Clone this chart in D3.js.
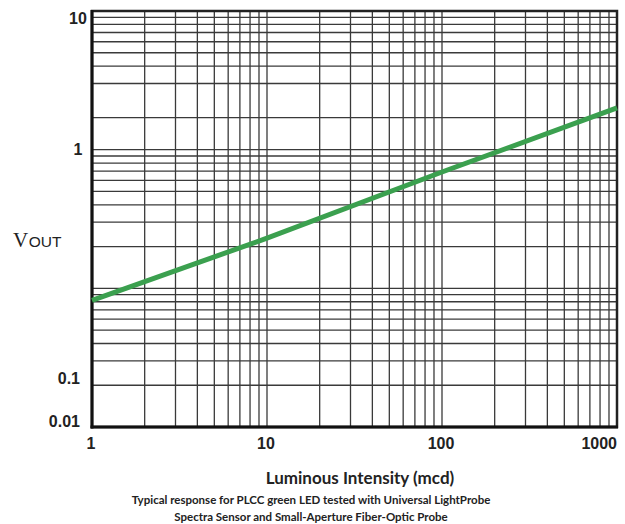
<!DOCTYPE html>
<html>
<head>
<meta charset="utf-8">
<script src="https://cdn.jsdelivr.net/npm/d3@7"></script>
<style>
  html, body { margin: 0; padding: 0; background: #fff; }
  svg { display: block; }
</style>
</head>
<body>
<svg id="chart" width="625" height="524"></svg>
<script>
// ---- data ----
const lumIntensity = [1, 10, 100, 1000];          // mcd
const vout = [0.082, 0.23, 0.69, 2.0];              // volts
const xTickValues = [1, 10, 100, 1000];
const xTickLabels = ["1", "10", "100", "1000"];
const yTickLabels = ["10", "1", "0.1", "0.01"];
const yTickLabelValues = [8.8, 1, 0.0225, 0.011];   // where the labels sit on the printed chart
const xGridValues = [2,3,4,5,6,7,8,9,10,20,30,40,50,60,70,80,90,100,200,300,400,500,600,700,800,900];
const yGridValues = [9,8,7,6,5,4,3,1.7,1,0.9,0.8,0.7,0.6,0.5,0.4,0.3,0.2,0.1,
                     0.09,0.08,0.07,0.06,0.05,0.04,0.03,0.02];
const xTitle = "Luminous Intensity (mcd)";
const captionLines = ["Typical response for PLCC green LED tested with Universal LightProbe",
                      "Spectra Sensor and Small-Aperture Fiber-Optic Probe"];

// ---- layout ----
const pL = 92, pR = 617, pT = 11, pB = 427;
const svg = d3.select("#chart");
const x = d3.scaleLog().domain([1, 1000]).range([pL, pR]);
const y = d3.scaleLog().domain([0.01, 10]).range([pB, pT]);

const grid = svg.append("g");
grid.selectAll("line.v").data(xGridValues).join("line")
  .attr("x1", d => x(d)).attr("x2", d => x(d))
  .attr("y1", pT).attr("y2", pB)
  .attr("stroke", "#3a3a3a").attr("stroke-width", 1.3);
grid.selectAll("line.h").data(yGridValues).join("line")
  .attr("y1", d => y(d)).attr("y2", d => y(d))
  .attr("x1", pL).attr("x2", pR)
  .attr("stroke", "#3a3a3a").attr("stroke-width", 1.3);

// frame
svg.append("rect")
  .attr("x", pL).attr("y", pT)
  .attr("width", pR - pL).attr("height", pB - pT)
  .attr("fill", "none").attr("stroke", "#222").attr("stroke-width", 2.5);
svg.append("line").attr("x1", pL).attr("x2", pL).attr("y1", pT - 1).attr("y2", pB + 1.5)
  .attr("stroke", "#111").attr("stroke-width", 3);
svg.append("line").attr("x1", pL - 1.5).attr("x2", pR + 1).attr("y1", pB).attr("y2", pB)
  .attr("stroke", "#111").attr("stroke-width", 3);

// data line
const line = d3.line().x((d, i) => x(lumIntensity[i])).y(d => y(d));
svg.append("path").datum(vout)
  .attr("d", line)
  .attr("fill", "none").attr("stroke", "#3ba04f").attr("stroke-width", 5);

// y tick labels
svg.append("g").selectAll("text").data(yTickLabels).join("text")
  .attr("x", (d, i) => i < 2 ? 78 : 80)
  .attr("y", (d, i) => y(yTickLabelValues[i]))
  .attr("dy", "0.35em")
  .attr("text-anchor", (d, i) => i < 2 ? "middle" : "end")
  .attr("font-family", "Liberation Sans, Arial, sans-serif")
  .attr("font-weight", "bold").attr("font-size", 16).attr("fill", "#222")
  .text(d => d);

// x tick labels
svg.append("g").selectAll("text").data(xTickLabels).join("text")
  .attr("x", (d, i) => i === xTickLabels.length - 1 ? x(xTickValues[i]) : x(xTickValues[i]) - 1)
  .attr("y", 449)
  .attr("text-anchor", (d, i) => i === xTickLabels.length - 1 ? "end" : "middle")
  .attr("font-family", "Liberation Sans, Arial, sans-serif")
  .attr("font-weight", "bold").attr("font-size", 16).attr("fill", "#222")
  .text(d => d);

// y axis title: V (serif) + OUT (small sans)
const yt = svg.append("text").attr("x", 13).attr("y", 247).attr("fill", "#222");
yt.append("tspan").attr("font-family", "Liberation Serif, Times New Roman, serif")
  .attr("font-size", 21).text("V");
yt.append("tspan").attr("font-family", "Liberation Sans, Arial, sans-serif")
  .attr("font-size", 15.5).attr("dx", 0.5).text("OUT");

// x title and caption
svg.append("text").attr("x", 360).attr("y", 484).attr("text-anchor", "middle")
  .attr("font-family", "Lato, Open Sans, sans-serif").attr("font-weight", "bold")
  .attr("font-size", 17).attr("fill", "#222").text(xTitle);
svg.append("g").selectAll("text").data(captionLines).join("text")
  .attr("x", 311).attr("y", (d, i) => 504 + i * 17).attr("text-anchor", "middle")
  .attr("font-family", "Lato, Open Sans, sans-serif").attr("font-weight", "bold")
  .attr("font-size", 11.5).attr("fill", "#222").text(d => d);
</script>
</body>
</html>
